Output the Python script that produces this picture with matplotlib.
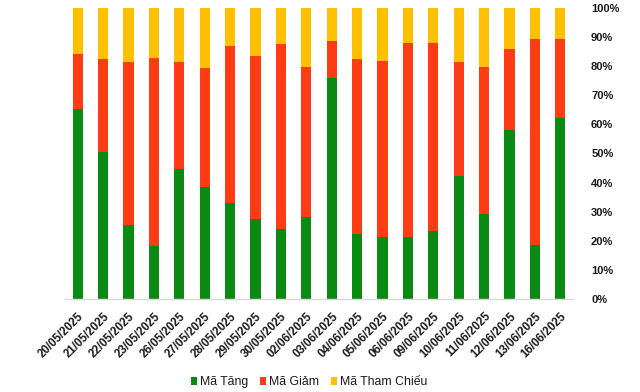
import matplotlib
matplotlib.use("Agg")
import matplotlib.pyplot as plt
from matplotlib.ticker import PercentFormatter
import numpy as np

dates = ["20/05/2025", "21/05/2025", "22/05/2025", "23/05/2025", "26/05/2025",
         "27/05/2025", "28/05/2025", "29/05/2025", "30/05/2025", "02/06/2025",
         "03/06/2025", "04/06/2025", "05/06/2025", "06/06/2025", "09/06/2025",
         "10/06/2025", "11/06/2025", "12/06/2025", "13/06/2025", "16/06/2025"]
tang = [65.1, 50.6, 25.4, 18.3, 44.7, 38.5, 33.0, 27.5, 24.1, 28.2,
        75.9, 22.3, 21.3, 21.3, 23.5, 42.4, 29.3, 58.2, 18.6, 62.3]
giam = [19.1, 31.9, 56.0, 64.5, 36.7, 40.9, 53.9, 56.0, 63.5, 51.5,
        12.8, 60.2, 60.5, 66.7, 64.5, 39.0, 50.4, 27.7, 70.7, 27.0]
tham_chieu = [15.8, 17.5, 18.6, 17.2, 18.6, 20.6, 13.1, 16.5, 12.4, 20.3,
              11.3, 17.5, 18.2, 12.0, 12.0, 18.6, 20.3, 14.1, 10.7, 10.7]
series_names = ["Mã Tăng", "Mã Giảm", "Mã Tham Chiếu"]
colors = ["#0B8A13", "#FF3C14", "#FFC000"]

plt.rcParams['font.family'] = ['Liberation Sans', 'DejaVu Sans']

fig = plt.figure(figsize=(6.4, 3.92), dpi=100)
ax = fig.add_axes([0.1016, 0.237, 0.7938, 0.743])

x = np.arange(len(dates))
w = 0.4
t = np.array(tang)
g = np.array(giam)
c = np.array(tham_chieu)
ax.bar(x, t, w, color=colors[0], label=series_names[0])
ax.bar(x, g, w, bottom=t, color=colors[1], label=series_names[1])
ax.bar(x, c, w, bottom=t + g, color=colors[2], label=series_names[2])

ax.set_xlim(-0.5, len(dates) - 0.5)
ax.set_ylim(0, 100)
ax.set_yticks(np.arange(0, 101, 10))
ax.yaxis.set_major_formatter(PercentFormatter(decimals=0))
ax.yaxis.tick_right()
ax.tick_params(axis='y', length=0, pad=13, labelsize=8)
for lbl in ax.get_yticklabels():
    lbl.set_fontweight('bold')
    lbl.set_color('#1a1a1a')

ax.set_xticks(x)
ax.set_xticklabels(dates, rotation=45, ha='right', rotation_mode='anchor',
                   fontsize=8.3, fontweight='bold', color='#1a1a1a')
ax.tick_params(axis='x', length=0, pad=8)

for s in ['top', 'left', 'right']:
    ax.spines[s].set_visible(False)
ax.spines['bottom'].set_color('#D9D9D9')
ax.spines['bottom'].set_linewidth(1)

fig.legend(loc='center', bbox_to_anchor=(0.483, 0.025), ncol=3,
           frameon=False, fontsize=8.8, handlelength=0.55, handleheight=0.55,
           handletextpad=0.25, columnspacing=0.9, borderpad=0)
for txt in fig.legends[0].get_texts():
    txt.set_color('#1a1a1a')

fig.savefig("out.png", dpi=100)
